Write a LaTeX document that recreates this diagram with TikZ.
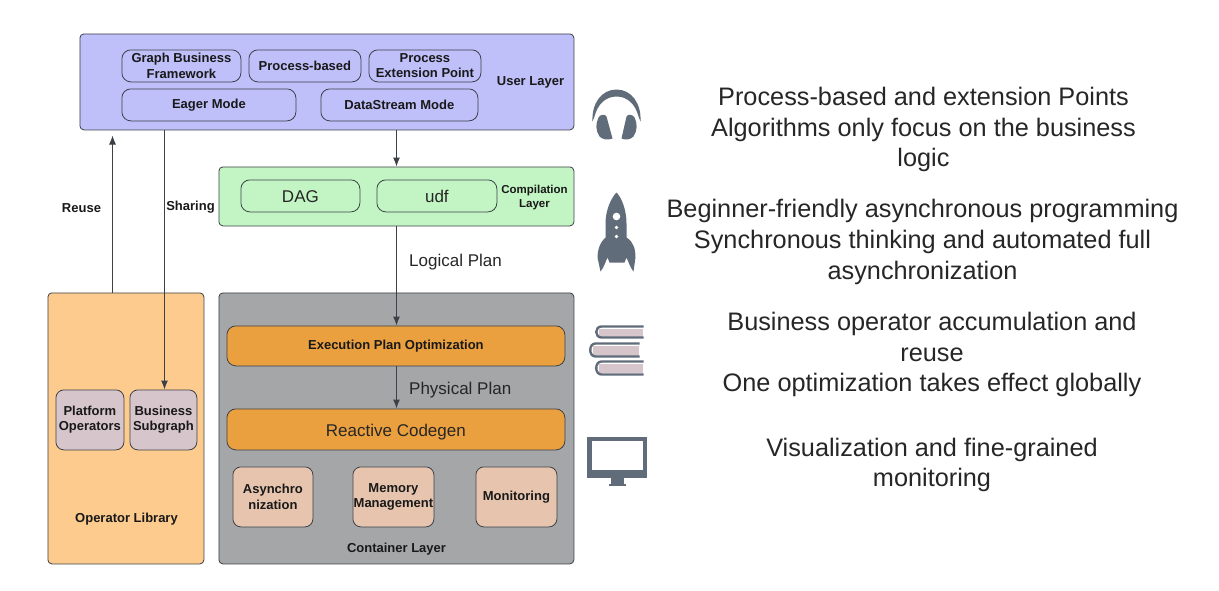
\documentclass[tikz,border=0pt]{standalone}
\usepackage{fontspec}
\setmainfont{Liberation Sans}
\usetikzlibrary{arrows.meta}
\definecolor{ulay}{HTML}{BFBFFA}
\definecolor{clay}{HTML}{C3F5C4}
\definecolor{olay}{HTML}{FDCB8D}
\definecolor{glay}{HTML}{A5A6A8}
\definecolor{orng}{HTML}{EBA03F}
\definecolor{mixa}{HTML}{D6C6CC}
\definecolor{mixb}{HTML}{E6C4AE}
\definecolor{edge}{HTML}{3C4148}
\definecolor{icon}{HTML}{616C7A}
\tikzset{
 x=1pt,y=-1pt,
 lay/.style={draw=edge,line width=.8pt,rounded corners=4pt},
 pill/.style={draw=edge,line width=.8pt,rounded corners=9pt,align=center,inner sep=0pt},
 card/.style={pill,rounded corners=8pt},
 sm/.style={font=\fontsize{13}{15.3}\selectfont\bfseries,text=black!90,align=center,inner sep=0pt},
 md/.style={font=\fontsize{17}{20}\selectfont,text=black!85,inner sep=0pt,text height=14pt,text depth=0pt},
 big/.style={font=\fontsize{25.3}{30.6}\selectfont,text=black!85,align=center,inner sep=0pt},
 arr/.style={draw=edge,line width=1pt,-{Latex[length=9pt,width=7pt]}},
}
\begin{document}
\begin{tikzpicture}
\useasboundingbox (0.5,0.5) rectangle (1219.5,590.5);
% layers
\node[lay,fill=ulay,minimum width=494pt,minimum height=96pt,anchor=north west] (user) at (80,34) {};
\node[lay,fill=clay,minimum width=355pt,minimum height=59pt,anchor=north west] (comp) at (219,167) {};
\node[lay,fill=olay,minimum width=156pt,minimum height=271pt,anchor=north west] (oplib) at (48,293) {};
\node[lay,fill=glay,minimum width=355pt,minimum height=271pt,anchor=north west] (cont) at (219,293) {};
% user layer
\node[pill,sm,fill=ulay,minimum width=119pt,minimum height=32pt,anchor=north west] (gbf) at (122,50) {Graph Business\\Framework};
\node[pill,sm,fill=ulay,minimum width=112pt,minimum height=32pt,anchor=north west] (pb) at (249,50) {Process-based};
\node[pill,sm,fill=ulay,minimum width=112pt,minimum height=32pt,anchor=north west] (pep) at (369,50) {Process\\Extension Point};
\node[pill,sm,fill=ulay,minimum width=174pt,minimum height=32pt,anchor=north west] (eager) at (122,89) {Eager Mode};
\node[pill,sm,fill=ulay,minimum width=157pt,minimum height=32pt,anchor=north west] (ds) at (321,89) {DataStream Mode};
\node[sm] (ul) at (531,83) {User Layer};
% compilation
\node[pill,md,fill=clay,minimum width=119pt,minimum height=32pt,anchor=north west] (dag) at (241,180) {DAG};
\node[pill,md,fill=clay,minimum width=120pt,minimum height=32pt,anchor=north west] (udf) at (377,180) {udf};
\node[sm,font=\fontsize{11.5}{14.5}\selectfont\bfseries] (cl) at (535,198) {Compilation\\Layer};
% container
\node[pill,sm,fill=orng,minimum width=338pt,minimum height=40pt,anchor=north west] (exec) at (227,326) {Execution Plan Optimization};
\node[pill,md,fill=orng,minimum width=338pt,minimum height=41pt,anchor=north west] (rc) at (227,409) {Reactive Codegen};
\node[card,sm,fill=mixb,minimum width=80pt,minimum height=60pt,anchor=north west] (async) at (233,467) {Asynchro\\nization};
\node[card,sm,fill=mixb,minimum width=81pt,minimum height=60pt,anchor=north west] (mem) at (353,467) {Memory\\Management};
\node[card,sm,fill=mixb,minimum width=81pt,minimum height=60pt,anchor=north west] (mon) at (476,467) {Monitoring};
\node[sm] (contl) at (397,550) {Container Layer};
% library
\node[card,sm,fill=mixa,minimum width=68pt,minimum height=60pt,anchor=north west] (plat) at (56,390) {Platform\\Operators};
\node[card,sm,fill=mixa,minimum width=67pt,minimum height=60pt,anchor=north west] (bsg) at (130,390) {Business\\Subgraph};
\node[sm] (oll) at (127,520) {Operator Library};
% connectors
\coordinate (rs) at (113,293);
\coordinate (re) at (113,136);
\coordinate (mid) at (397,0);
\draw[arr] (rs) -- (re);
\coordinate (ss) at (165,130);
\draw[arr] (ss) -- (bsg.north -| ss);
\draw[arr] (user.south -| mid) -- (comp.north -| mid);
\draw[arr] (comp.south -| mid) -- (exec.north -| mid);
\draw[arr] (exec.south -| mid) -- (rc.north -| mid);
\node[sm] (reuse) at (82,209) {Reuse};
\node[sm] (sharing) at (191,208) {Sharing};
\node[md,anchor=west] (lp) at (409.5,260) {Logical Plan};
\node[md,anchor=west] (ppl) at (409.5,388) {Physical Plan};
% right text
\node[big] (t1) at (924,130) {Process-based and extension Points\\Algorithms only focus on the business\\logic};
\node[big] (t2) at (923,242.5) {Beginner-friendly asynchronous programming\\Synchronous thinking and automated full\\asynchronization};
\node[big] (t3) at (932.5,355) {Business operator accumulation and\\reuse\\One optimization takes effect globally};
\node[big] (t4) at (932.5,465.5) {Visualization and fine-grained\\monitoring};
% headphones
\fill[icon] (593,122) .. controls (592,104) and (602,90) .. (617,90) .. controls (632,90) and (642,104) .. (641,122) -- (639,117) .. controls (636,105) and (628,97) .. (617,97) .. controls (606,97) and (598,105) .. (595,117) -- cycle;
\fill[icon] (599,118) .. controls (601,115) and (605,114) .. (607,117) -- (613,139) .. controls (608,141) and (603,140) .. (600,137) .. controls (596,131) and (596,124) .. (599,118) -- cycle;
\fill[icon] (635,118) .. controls (633,115) and (629,114) .. (627,117) -- (622,139) .. controls (626,141) and (631,140) .. (634,137) .. controls (638,131) and (638,124) .. (635,118) -- cycle;
% rocket
\fill[icon] (617,193) .. controls (622,198) and (627,210) .. (627,224) -- (627,238) .. controls (634,242) and (636,250) .. (636,258) -- (634,272) .. controls (630,267) and (629,262) .. (627,258) -- (625,263) -- (610,263) -- (608,258) .. controls (606,262) and (605,267) .. (601,272) -- (598,258) .. controls (598,250) and (601,242) .. (606,238) -- (606,224) .. controls (606,210) and (612,198) .. (617,193) -- cycle;
\fill[white] (617,217) circle (3.8);
\fill[white] (617,228) circle (1.8);
\fill[white] (617,237) circle (1.8);
% books
\fill[mixa] (599,329) rectangle (643,337);
\fill[mixa] (593,346) rectangle (639,356);
\fill[mixa] (599,364) rectangle (643,373);
\draw[icon,line width=2.4pt] (644,327) -- (602,327) .. controls (595,327) and (595,338) .. (602,338) -- (644,338);
\draw[icon,line width=2.4pt] (640,344) -- (596,344) .. controls (589,344) and (589,357) .. (596,357) -- (640,357);
\draw[icon,line width=2.4pt] (644,362) -- (602,362) .. controls (595,362) and (595,375) .. (602,375) -- (644,375);
% monitor
\fill[icon] (587,437) rectangle (647,478);
\fill[white] (592,441.5) rectangle (643,470.5);
\fill[icon] (611,478) rectangle (624,484);
\fill[icon] (609,484) rectangle (626,486.5);
\end{tikzpicture}
\end{document}
